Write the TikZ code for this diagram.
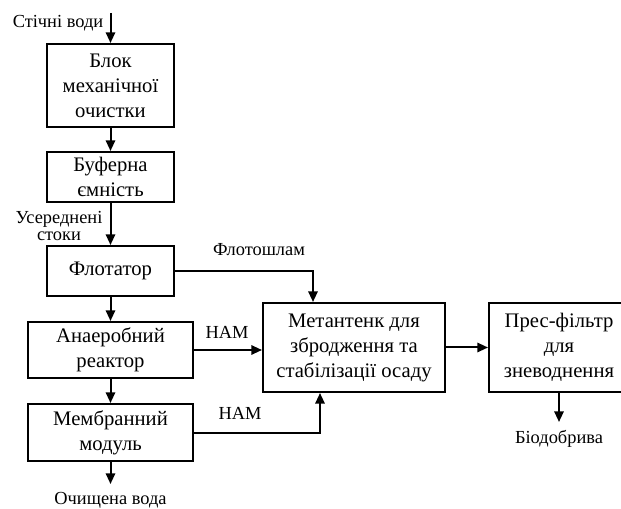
\documentclass[tikz,border=0pt]{standalone}
\usepackage{fontspec}
\setmainfont{Liberation Serif}
\usetikzlibrary{arrows.meta}
\newcommand{\boxfont}{\fontsize{15.5}{18.75}\selectfont}
\newcommand{\lblfont}{\fontsize{13.8}{12.9}\selectfont}
\begin{document}
\begin{tikzpicture}[x=0.75pt,y=-0.75pt,
  box/.style={draw, line width=1.5pt, align=center, inner sep=0pt, font=\boxfont},
  lbl/.style={align=center, inner sep=0pt, font=\lblfont},
  arr/.style={-{Triangle[length=8pt,width=7pt]}, line width=1.5pt}]
\useasboundingbox (0,0) rectangle (621,509);
\node[box, minimum width=95.25pt, minimum height=62.25pt] (b1) at (110.5,85.5) {Блок\\механічної\\очистки};
\node[box, minimum width=95.25pt, minimum height=37.5pt] (b2) at (110.5,177) {Буферна\\ємність};
\node[box, minimum width=95.25pt, minimum height=37.5pt] (b3) at (110.5,271) {Флотатор};
\node[box, minimum width=123.75pt, minimum height=42pt] (b4) at (110.5,350) {Анаеробний\\реактор};
\node[box, minimum width=123.75pt, minimum height=42.75pt] (b5) at (110.5,432.5) {Мембранний\\модуль};
\node[box, minimum width=136.5pt, minimum height=66.75pt] (b6) at (354,347.5) {Метантенк для\\збродження та\\стабілізації осаду};
\node[box, minimum width=105pt, minimum height=66.75pt] (b7) at (559,347.5) {Прес-фільтр\\для\\зневоднення};

\coordinate (in) at (110.5,13);
\coordinate (outw) at (110.5,484);
\coordinate (outb) at (559,422);

\node[lbl] (l1) at (58,23) {Стічні води};
\node[lbl] (l2) at (59,226) {Усереднені\\стоки};
\node[lbl] (l3) at (259,250) {Флотошлам};
\node[lbl] (l4) at (227,332) {НАМ};
\node[lbl] (l5) at (240,413) {НАМ};
\node[lbl] (l6) at (110.5,500) {Очищена вода};
\node[lbl] (l7) at (559,439) {Біодобрива};

\draw[arr] (in) -- (b1);
\draw[arr] (b1) -- (b2);
\draw[arr] (b2) -- (b3);
\draw[arr] (b3) -- (b4);
\draw[arr] (b4) -- (b5);
\draw[arr] (b5) -- (outw);
\draw[arr] (b3.east) -| ([xshift=-30.75pt]b6.north);
\draw[arr] (b4.east) -- (b4.east -| b6.west);
\draw[arr] (b5.east) -| ([xshift=-25.5pt]b6.south);
\draw[arr] (b6.east) -- (b7.west);
\draw[arr] (b7.south -| outb) -- (outb);
\end{tikzpicture}
\end{document}
